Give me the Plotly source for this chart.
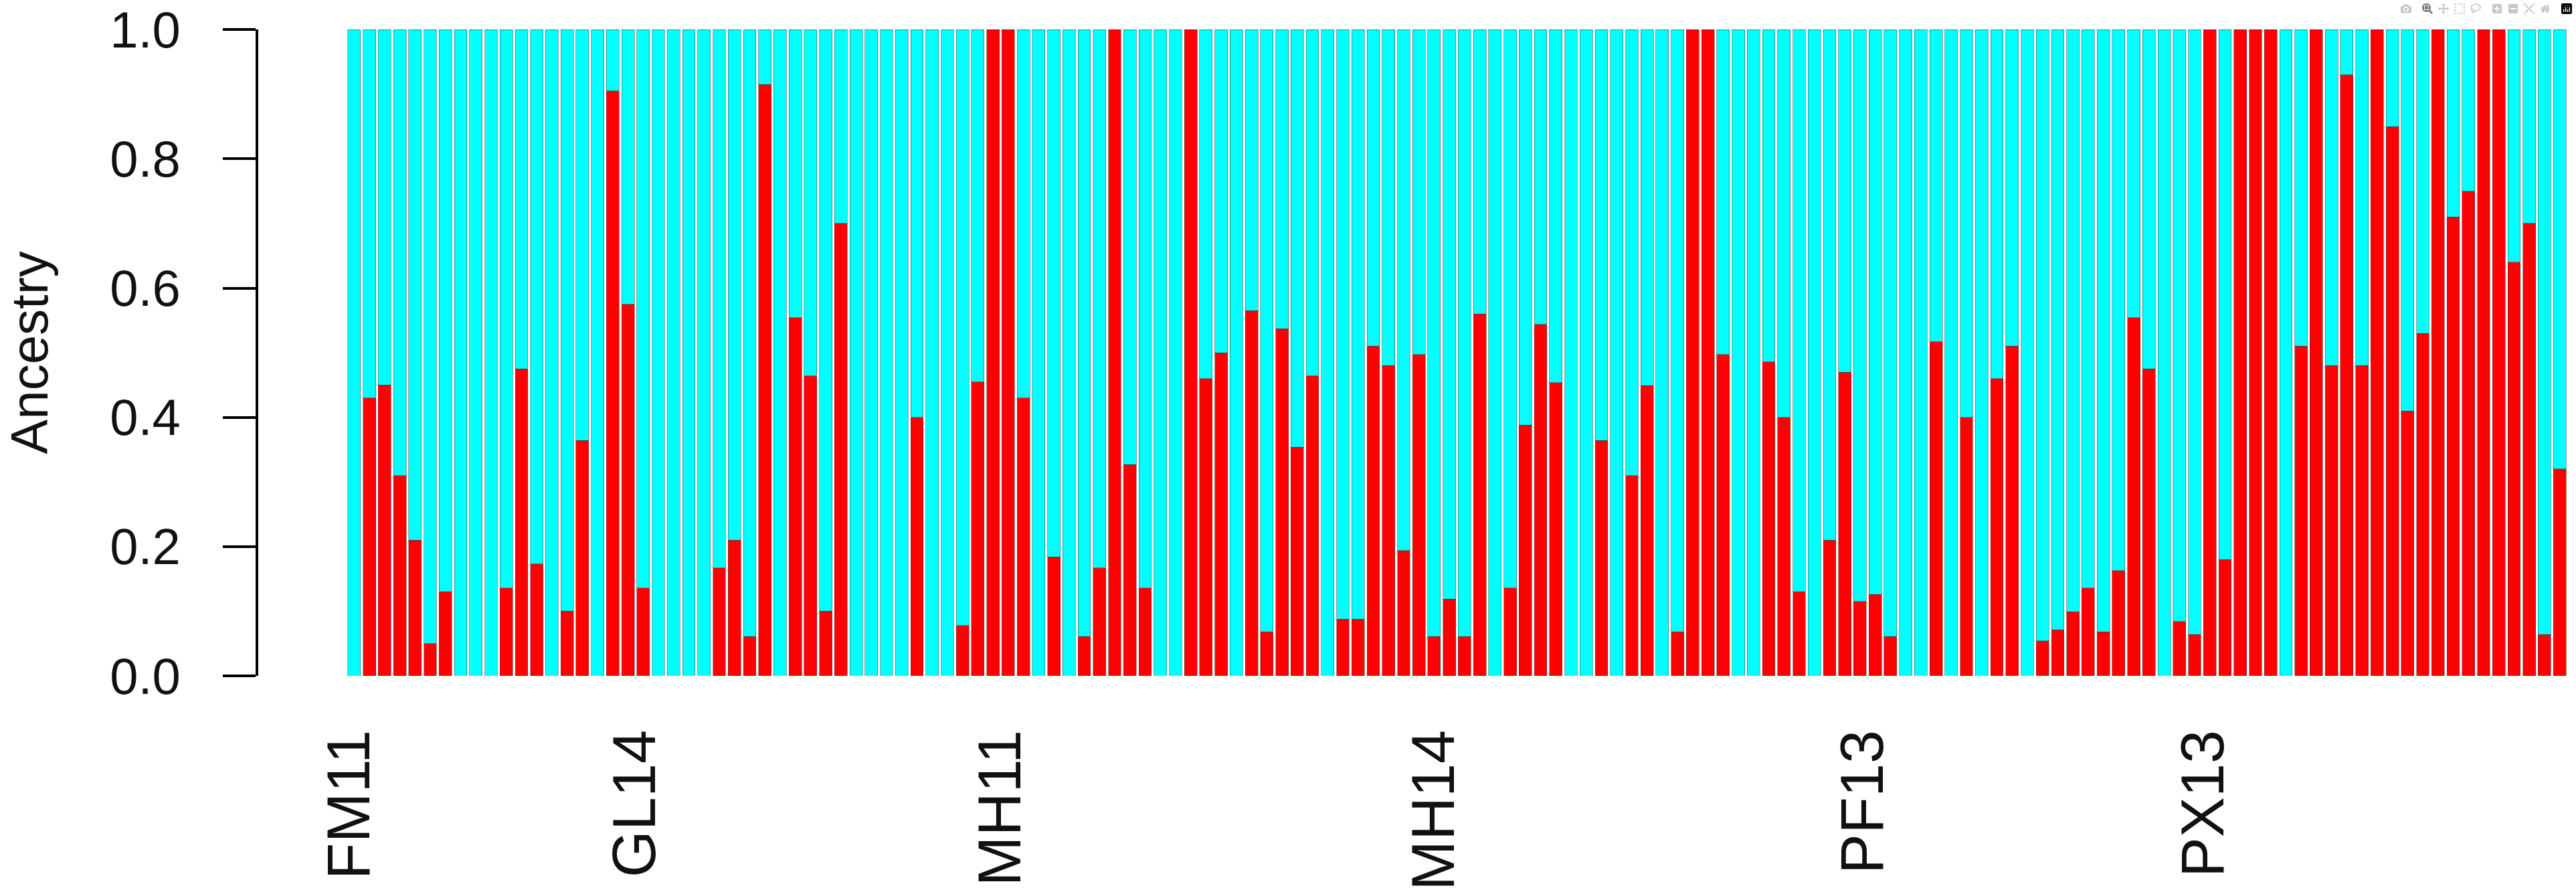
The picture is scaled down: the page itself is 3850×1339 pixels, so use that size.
import plotly.graph_objects as go

# Ancestry proportion of the red cluster for each individual
anc_red = [
    0, 0.43, 0.45, 0.31, 0.21, 0.05, 0.13, 0, 0, 0,
    0.136, 0.475, 0.173, 0, 0.10, 0.364, 0, 0.905, 0.575, 0.136,
    0, 0, 0, 0, 0.167, 0.21, 0.061, 0.915, 0, 0.554,
    0.464, 0.10, 0.70, 0, 0, 0, 0, 0.40, 0, 0,
    0.078, 0.455, 1.0, 1.0, 0.43, 0, 0.184, 0, 0.061, 0.167,
    1.0, 0.327, 0.136, 0, 0, 1.0, 0.46, 0.50, 0, 0.565,
    0.068, 0.537, 0.354, 0.464, 0, 0.088, 0.088, 0.51, 0.48, 0.194,
    0.497, 0.061, 0.119, 0.061, 0.56, 0, 0.136, 0.388, 0.544, 0.454,
    0, 0, 0.364, 0, 0.31, 0.449, 0, 0.068, 1.0, 1.0,
    0.497, 0, 0, 0.486, 0.40, 0.13, 0, 0.21, 0.47, 0.115,
    0.126, 0.061, 0, 0, 0.517, 0, 0.40, 0, 0.46, 0.51,
    0, 0.054, 0.071, 0.099, 0.136, 0.068, 0.163, 0.554, 0.475, 0,
    0.084, 0.064, 1.0, 0.18, 1.0, 1.0, 1.0, 0, 0.51, 1.0,
    0.48, 0.93, 0.48, 1.0, 0.85, 0.41, 0.53, 1.0, 0.71, 0.75,
    1.0, 1.0, 0.64, 0.70, 0.064, 0.32,
]
anc_cyan = [round(1 - v, 3) for v in anc_red]
individuals = list(range(len(anc_red)))

# Population labels and the individual position at which each one is printed
pop_labels = ["FM11", "GL14", "MH11", "MH14", "PF13", "PX13"]
pop_label_pos = [-0.3, 18.5, 42.5, 71.0, 99.2, 121.6]

y_ticks = [0.0, 0.2, 0.4, 0.6, 0.8, 1.0]

border = dict(color="rgba(60,60,60,0.5)", width=1)

fig = go.Figure()
fig.add_trace(go.Bar(x=individuals, y=anc_red, marker=dict(color="#FF0000", line=border),
                     showlegend=False, hoverinfo="y"))
fig.add_trace(go.Bar(x=individuals, y=anc_cyan, marker=dict(color="#00FFFF", line=border),
                     showlegend=False, hoverinfo="y"))

n = len(anc_red)
fig.update_layout(
    template="none",
    width=3850, height=1339,
    margin=dict(l=386, r=0, t=44, b=329, pad=0),
    barmode="stack", bargap=0.17,
    paper_bgcolor="white", plot_bgcolor="white",
    font=dict(family="Liberation Sans, Arial, sans-serif", size=76, color="#111111"),
    xaxis=dict(
        type="linear",
        range=[-0.5 - 132 / 22.73, n - 0.5 + 13 / 22.73],
        tickmode="array", tickvals=pop_label_pos, ticktext=pop_labels,
        tickangle=-90, ticks="", showline=False, showgrid=False, zeroline=False,
        ticklabelstandoff=62, automargin=False, ticklabeloverflow="allow",
        tickfont=dict(size=90),
    ),
    yaxis=dict(
        range=[0, 1.0002], tickmode="array", tickvals=y_ticks, tickformat=".1f",
        ticks="outside", ticklen=49, tickwidth=4, tickcolor="black",
        showline=True, linewidth=4, linecolor="black",
        showgrid=False, zeroline=False, automargin=False,
        ticklabelstandoff=48, ticklabeloverflow="allow",
        title=dict(text="Ancestry", standoff=80, font=dict(size=78)),
        tickfont=dict(size=76),
    ),
)

fig.write_html("out.html", post_script="document.body.style.margin='0';")
